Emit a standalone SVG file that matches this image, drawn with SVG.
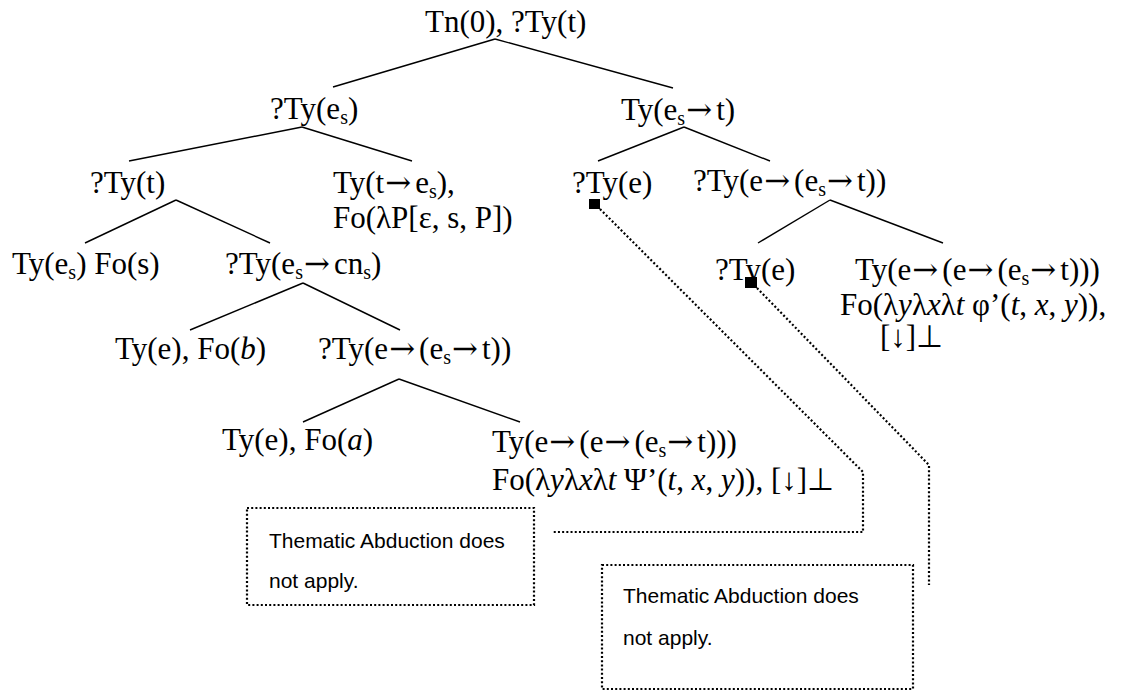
<svg xmlns="http://www.w3.org/2000/svg" width="1132" height="691" viewBox="0 0 1132 691">
<style>
.t{font-family:"Liberation Serif","Times New Roman",serif;font-size:31px;fill:#000}
.n{font-family:"Liberation Sans",Arial,sans-serif;font-size:21px;fill:#000}
.e{stroke:#000;stroke-width:1.4;fill:none}
.d{stroke:#000;stroke-width:2.2;fill:none;stroke-dasharray:2 2.2}
.i{font-style:italic}
.s{font-size:20px}
.a{font-family:"DejaVu Serif",serif;font-size:31px;letter-spacing:4px}
</style>
<rect width="1132" height="691" fill="#fff"/>
<g id="connectors">
<line class="e" x1="495" y1="39" x2="333" y2="87"/>
<line class="e" x1="495" y1="39" x2="673" y2="88"/>
<line class="e" x1="302" y1="127" x2="129" y2="161"/>
<line class="e" x1="302" y1="127" x2="412" y2="161"/>
<line class="e" x1="684" y1="127" x2="598" y2="161"/>
<line class="e" x1="684" y1="127" x2="770" y2="161"/>
<line class="e" x1="176" y1="200" x2="85" y2="243"/>
<line class="e" x1="176" y1="200" x2="270" y2="243"/>
<line class="e" x1="830" y1="200" x2="758" y2="243"/>
<line class="e" x1="830" y1="200" x2="943" y2="243"/>
<line class="e" x1="303" y1="283" x2="190" y2="330"/>
<line class="e" x1="303" y1="283" x2="400" y2="330"/>
<line class="e" x1="399" y1="379" x2="303" y2="422"/>
<line class="e" x1="399" y1="379" x2="520" y2="422"/>
<rect x="589" y="199" width="11" height="10" fill="#000"/>
<rect x="745" y="277" width="12" height="11" fill="#000"/>
<polyline class="d" points="600,209 863,472 863,532 552,532"/>
<polyline class="d" points="757,288 929,465 929,585"/>
</g>
<g id="n-root"><text class="t" x="425" y="32">Tn(0), ?Ty(t)</text></g>
<g id="n-es"><text class="t" x="270" y="119">?Ty(e<tspan class="s" dy="5">s</tspan><tspan dy="-5">)</tspan></text></g>
<g id="n-est"><text class="t" x="621" y="120">Ty(e<tspan class="s" dy="5">s</tspan><tspan class="a" dy="-5" dx="1">→</tspan>t)</text></g>
<g id="n-t"><text class="t" x="90" y="193">?Ty(t)</text></g>
<g id="n-tes">
<text class="t" x="333" y="193">Ty(t<tspan class="a" dx="1">→</tspan>e<tspan class="s" dy="5">s</tspan><tspan dy="-5">),</tspan></text>
<text class="t" x="333" y="228">Fo(λP[ε, s, P])</text>
</g>
<g id="n-e1"><text class="t" x="572" y="193">?Ty(e)</text></g>
<g id="n-eest1"><text class="t" x="693" y="191">?Ty(e<tspan class="a" dx="1">→</tspan>(e<tspan class="s" dy="5">s</tspan><tspan class="a" dy="-5" dx="1">→</tspan>t))</text></g>
<g id="n-s"><text class="t" x="12" y="274">Ty(e<tspan class="s" dy="5">s</tspan><tspan dy="-5">) Fo(s)</tspan></text></g>
<g id="n-escn"><text class="t" x="225" y="274">?Ty(e<tspan class="s" dy="5">s</tspan><tspan class="a" dy="-5" dx="1">→</tspan>cn<tspan class="s" dy="5">s</tspan><tspan dy="-5">)</tspan></text></g>
<g id="n-e2"><text class="t" x="715" y="280">?Ty(e)</text></g>
<g id="n-phi">
<text class="t" x="855" y="280">Ty(e<tspan class="a" dx="1">→</tspan>(e<tspan class="a" dx="1">→</tspan>(e<tspan class="s" dy="5">s</tspan><tspan class="a" dy="-5" dx="1">→</tspan>t)))</text>
<text class="t" x="840" y="315">Fo(λ<tspan class="i">y</tspan>λ<tspan class="i">x</tspan>λ<tspan class="i">t</tspan> φ’(<tspan class="i">t</tspan>, <tspan class="i">x</tspan>, <tspan class="i">y</tspan>)),</text>
<text class="t" x="880" y="347">[↓]⊥</text>
</g>
<g id="n-b"><text class="t" x="115" y="359">Ty(e), Fo(<tspan class="i">b</tspan>)</text></g>
<g id="n-eest2"><text class="t" x="318" y="359">?Ty(e<tspan class="a" dx="1">→</tspan>(e<tspan class="s" dy="5">s</tspan><tspan class="a" dy="-5" dx="1">→</tspan>t))</text></g>
<g id="n-a"><text class="t" x="222" y="450">Ty(e), Fo(<tspan class="i">a</tspan>)</text></g>
<g id="n-psi">
<text class="t" x="492" y="452">Ty(e<tspan class="a" dx="1">→</tspan>(e<tspan class="a" dx="1">→</tspan>(e<tspan class="s" dy="5">s</tspan><tspan class="a" dy="-5" dx="1">→</tspan>t)))</text>
<text class="t" x="492" y="490">Fo(λ<tspan class="i">y</tspan>λ<tspan class="i">x</tspan>λ<tspan class="i">t</tspan> Ψ’(<tspan class="i">t</tspan>, <tspan class="i">x</tspan>, <tspan class="i">y</tspan>)), [↓]⊥</text>
</g>
<g id="box1">
<rect class="d" x="247" y="508" width="287" height="97"/>
<text class="n" x="269" y="548">Thematic Abduction does</text>
<text class="n" x="269" y="588">not apply.</text>
</g>
<g id="box2">
<rect class="d" x="602" y="565" width="311" height="124"/>
<text class="n" x="623" y="603">Thematic Abduction does</text>
<text class="n" x="623" y="645">not apply.</text>
</g>
</svg>
